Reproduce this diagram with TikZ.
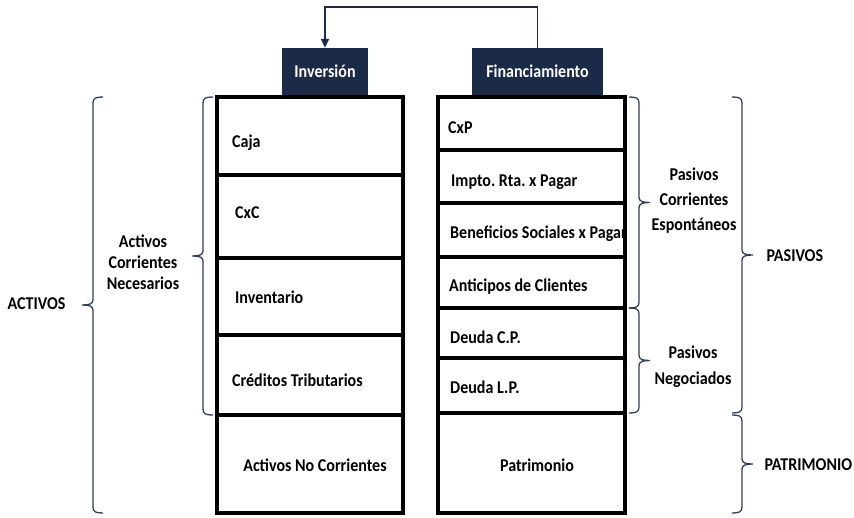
\documentclass[tikz,border=0pt]{standalone}
\usepackage{fontspec}
\setmainfont{Carlito}[FakeStretch=0.89]
\usepackage{tikz}
\usetikzlibrary{arrows.meta, calc}
\definecolor{navy}{HTML}{1B2A47}
\frenchspacing
% #1 x of the ends, #2 top, #3 bottom, #4 side (1 = right, -1 = left)
\newcommand{\sidebrace}[4]{%
    \pgfmathsetmacro{\bracex}{#1+10*#4}%
    \pgfmathsetmacro{\bracek}{#1+7*#4}%
    \pgfmathsetmacro{\bracej}{#1+14*#4}%
    \pgfmathsetmacro{\bracetip}{#1+21*#4}%
    \pgfmathsetmacro{\bracemid}{(#2+#3)/2}%
    \draw[curlline] (#1,#2) .. controls (\bracek,#2) and (\bracex,#2+1) .. (\bracex,#2+6)
        -- (\bracex,\bracemid-5) .. controls (\bracex,\bracemid-1) and (\bracej,\bracemid) .. (\bracetip,\bracemid)
        .. controls (\bracej,\bracemid) and (\bracex,\bracemid+1) .. (\bracex,\bracemid+5)
        -- (\bracex,#3-6) .. controls (\bracex,#3-1) and (\bracek,#3) .. (#1,#3);}

\begin{document}
\begin{tikzpicture}[x=1pt, y=-1pt,
    font=\bfseries\fontsize{18}{22}\selectfont,
    frame/.style={line width=4pt},
    curlline/.style={navy!90, line width=1.3pt},
    header/.style={fill=navy, text=white, minimum height=47pt, inner sep=0pt},
    item/.style={anchor=base west, inner sep=0pt},
    flow/.style={navy, line width=1.8pt, -{Triangle[width=8pt,length=9pt]}}]
    \useasboundingbox (0,0) rectangle (854,517);

    % Headers and flow
    \node[header, minimum width=86pt] (inv) at (325,71.5) {Inversión};
    \node[header, minimum width=131pt] (fin) at (537.5,71.5) {Financiamiento};
    \draw[flow] (fin.north) -- ++(0,-41) -| (inv.north);

    % Left column: uses of funds
    \node[item] (caja) at (232,147) {Caja};
    \node[item] (cxc) at (235,218) {CxC};
    \node[item] (inventario) at (235,303) {Inventario};
    \node[item] (creditos) at (232,386) {Créditos Tributarios};
    \node (noCorrientes) at (315,465) {Activos No Corrientes};
    \draw[frame] (217,97) rectangle (403,513);
    \foreach \y in {175,258,335,415}
        \draw[frame] (217,\y) -- (403,\y);

    % Right column: sources of funds
    \begin{scope}
        \clip (438,97) rectangle (625,513);
        \node[item] (cxp) at (448,133) {CxP};
        \node[item] (impto) at (451,186) {Impto. Rta. x Pagar};
        \node[item] (beneficios) at (450,238) {Beneficios Sociales x Pagar};
        \node[item] (anticipos) at (449,291) {Anticipos de Clientes};
        \node[item] (deudaCP) at (450,343) {Deuda C.P.};
        \node[item] (deudaLP) at (450,393) {Deuda L.P.};
        \node (patrimonio) at (537,465) {Patrimonio};
    \end{scope}
    \draw[frame] (438,97) rectangle (625,513);
    \foreach \y in {150,203,257,308,358,413}
        \draw[frame] (438,\y) -- (625,\y);

    % Braces
    \sidebrace{103}{97}{513}{-1}
    \sidebrace{213}{97}{415}{-1}
    \sidebrace{629}{97}{308}{1}
    \sidebrace{629}{308}{413}{1}
    \sidebrace{732}{97}{413}{1}
    \sidebrace{732}{415}{513}{1}

    % Brace labels
    \node[anchor=east] (activos) at (69,304) {ACTIVOS};
    \node[align=center, font=\bfseries\fontsize{18}{21}\selectfont] (necesarios) at (143,262) {Activos\\Corrientes\\Necesarios};
    \node[align=center, font=\bfseries\fontsize{18}{25}\selectfont] (espontaneos) at (694,201) {Pasivos\\Corrientes\\Espontáneos};
    \node[align=center, font=\bfseries\fontsize{18}{26}\selectfont] (negociados) at (693,367) {Pasivos\\Negociados};
    \node[anchor=west] (pasivos) at (763,256) {PASIVOS};
    \node[anchor=west] (patrimonioLbl) at (761,465) {PATRIMONIO};
\end{tikzpicture}
\end{document}
